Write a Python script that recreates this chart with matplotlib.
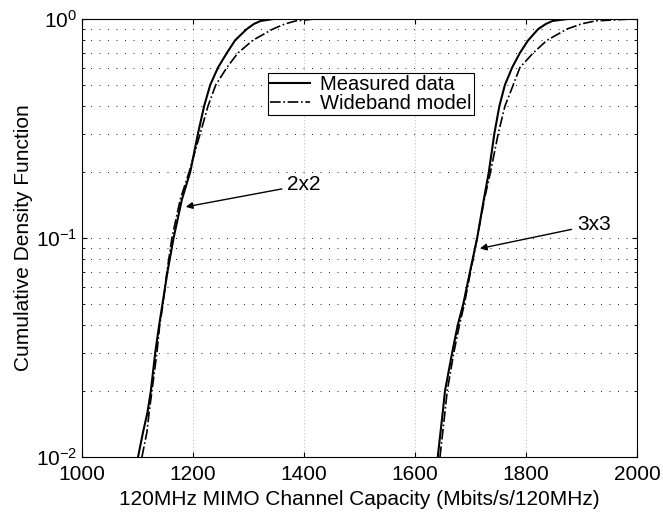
import matplotlib.pyplot as plt
from matplotlib.ticker import LogLocator, NullFormatter
import numpy as np

plt.rcParams['font.family'] = ['Liberation Sans', 'DejaVu Sans']
plt.rcParams['mathtext.fontset'] = 'custom'
plt.rcParams['mathtext.rm'] = 'Liberation Sans'

# CDF levels
cdf = [0.01, 0.013, 0.016, 0.02, 0.03, 0.04, 0.05, 0.07, 0.1, 0.15, 0.2, 0.3, 0.4, 0.5,
       0.6, 0.7, 0.8, 0.9, 0.95, 0.98, 1.0]

# capacity (Mbits/s/120MHz) at each level
meas_2x2 = [1101, 1110, 1118, 1124, 1132, 1139, 1145, 1154, 1165, 1180, 1195, 1209, 1220, 1231,
            1245, 1261, 1276, 1297, 1310, 1322, 1345]
model_2x2 = [1108, 1117, 1121, 1126, 1135, 1140, 1146, 1153, 1162, 1177, 1193, 1213, 1227, 1241,
             1261, 1281, 1308, 1344, 1366, 1385, 1420]
meas_3x3 = [1641, 1646, 1650, 1654, 1667, 1677, 1687, 1699, 1712, 1724, 1733, 1743, 1752, 1762,
            1775, 1789, 1804, 1822, 1836, 1848, 1875]
model_3x3 = [1645, 1650, 1654, 1658, 1670, 1680, 1689, 1700, 1712, 1725, 1736, 1750, 1762, 1777,
             1789, 1813, 1838, 1874, 1900, 1925, 1990]

fig = plt.figure(figsize=(6.63, 5.13), dpi=100)
ax = fig.add_axes([82 / 663, 1 - 457 / 513, 555 / 663, 438 / 513])

ax.plot(meas_2x2, cdf, 'k-', lw=1.5, label='Measured data')
ax.plot(model_2x2, cdf, 'k-.', lw=1.2, label='Wideband model')
ax.plot(meas_3x3, cdf, 'k-', lw=1.5)
ax.plot(model_3x3, cdf, 'k-.', lw=1.2)

ax.set_yscale('log')
ax.set_xlim(1000, 2000)
ax.set_ylim(0.01, 1)
ax.set_xticks([1000, 1200, 1400, 1600, 1800, 2000])
ax.yaxis.set_minor_locator(LogLocator(base=10, subs=np.arange(2, 10)))
ax.yaxis.set_minor_formatter(NullFormatter())

ax.grid(True, axis='y', which='both', linestyle=(0, (1.2, 9)), color='black', lw=0.6)
ax.grid(True, axis='x', which='major', linestyle=(0, (1, 3)), color='0.65', lw=0.6)
ax.tick_params(direction='in', top=True, right=True, labelsize=15, which='both')
ax.tick_params(axis='x', pad=6)
ax.tick_params(which='minor', length=2)
for s in ax.spines.values():
    s.set_linewidth(0.8)

ax.set_xlabel('120MHz MIMO Channel Capacity (Mbits/s/120MHz)', fontsize=15, labelpad=4)
ax.set_ylabel('Cumulative Density Function', fontsize=15, labelpad=2)

leg = ax.legend(loc='upper left', bbox_to_anchor=(186 / 555, 1 - 54 / 438), fontsize=14.5,
                frameon=True, fancybox=False, edgecolor='black', framealpha=1,
                handlelength=2.0, borderpad=0.1, labelspacing=0.0, handletextpad=0.5,
                borderaxespad=0)
leg.get_frame().set_linewidth(0.8)

ax.annotate('2x2', xy=(1182, 0.138), xytext=(1370, 0.175), fontsize=15, va='center',
            arrowprops=dict(arrowstyle='-|>', color='black', lw=1, mutation_scale=10))
ax.annotate('3x3', xy=(1712, 0.089), xytext=(1892, 0.115), fontsize=15, va='center',
            arrowprops=dict(arrowstyle='-|>', color='black', lw=1, mutation_scale=10))

fig.savefig('out.png', dpi=100)
